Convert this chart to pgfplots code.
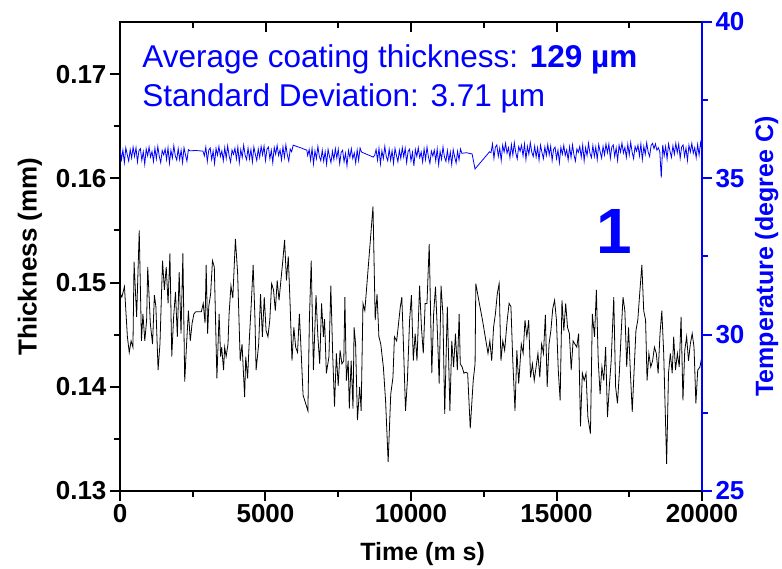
\documentclass[border=0pt]{standalone}
\usepackage{fontspec}
\setmainfont{Liberation Sans}
\usepackage{pgfplots}
\pgfplotsset{compat=1.18}
\usepackage{pgfplotstable}

\pgfplotstableread{
t th
0 0.1490
64 0.1486
153 0.1496
254 0.1448
318 0.1433
381 0.1444
445 0.1438
483 0.1520
572 0.1467
661 0.1550
737 0.1444
788 0.1470
852 0.1444
915 0.1464
953 0.1515
1042 0.1461
1118 0.1441
1182 0.1488
1233 0.1477
1309 0.1416
1373 0.1441
1462 0.1521
1525 0.1493
1589 0.1515
1652 0.1480
1716 0.1528
1779 0.1429
1843 0.1467
1907 0.1491
1970 0.1448
2034 0.1510
2097 0.1451
2161 0.1528
2224 0.1405
2288 0.1441
2351 0.1473
2415 0.1444
2478 0.1461
2542 0.1470
2606 0.1472
2796 0.1472
2860 0.1480
2923 0.1461
2961 0.1517
3012 0.1451
3050 0.1477
3114 0.1489
3178 0.1521
3241 0.1515
3330 0.1408
3406 0.1470
3457 0.1429
3495 0.1438
3559 0.1416
3597 0.1438
3648 0.1429
3711 0.1441
3749 0.1470
3813 0.1497
3877 0.1485
3966 0.1542
4042 0.1509
4131 0.1425
4194 0.1441
4283 0.1390
4321 0.1429
4385 0.1408
4449 0.1448
4512 0.1480
4576 0.1517
4639 0.1464
4677 0.1416
4766 0.1441
4830 0.1489
4893 0.1448
4957 0.1486
5020 0.1454
5084 0.1448
5148 0.1464
5211 0.1499
5275 0.1493
5338 0.1473
5402 0.1502
5465 0.1483
5529 0.1502
5592 0.1520
5656 0.1541
5720 0.1502
5783 0.1525
5847 0.1478
5910 0.1425
5974 0.1457
6037 0.1438
6101 0.1433
6164 0.1470
6228 0.1432
6291 0.1392
6457 0.1377
6508 0.1464
6571 0.1521
6647 0.1416
6736 0.1488
6800 0.1448
6863 0.1422
6927 0.1480
6990 0.1448
7029 0.1465
7092 0.1413
7181 0.1429
7245 0.1497
7308 0.1432
7372 0.1381
7435 0.1432
7499 0.1401
7562 0.1435
7626 0.1422
7690 0.1425
7728 0.1486
7779 0.1406
7842 0.1425
7880 0.1379
7944 0.1425
8007 0.1379
8045 0.1457
8096 0.1441
8160 0.1368
8236 0.1400
8287 0.1377
8350 0.1480
8414 0.1473
8694 0.1573
8770 0.1464
8833 0.1489
8897 0.1448
8961 0.1441
9050 0.1419
9126 0.1387
9215 0.1328
9304 0.1393
9380 0.1409
9431 0.1448
9507 0.1444
9558 0.1457
9634 0.1477
9685 0.1486
9736 0.1444
9812 0.1377
9876 0.1406
9952 0.1464
10015 0.1488
10079 0.1425
10143 0.1451
10206 0.1425
10295 0.1497
10359 0.1457
10422 0.1432
10486 0.1480
10549 0.1480
10626 0.1537
10715 0.1413
10778 0.1470
10842 0.1496
10905 0.1454
10969 0.1403
11032 0.1497
11096 0.1470
11159 0.1374
11248 0.1477
11337 0.1377
11401 0.1444
11464 0.1419
11528 0.1451
11592 0.1416
11655 0.1470
11693 0.1422
11757 0.1419
11820 0.1413
11884 0.1414
11947 0.1413
12036 0.1360
12138 0.1406
12202 0.1422
12227 0.1499
12329 0.1483
12456 0.1464
12646 0.1432
12710 0.1444
12774 0.1425
12837 0.1457
12901 0.1470
12964 0.1489
13028 0.1499
13091 0.1425
13155 0.1444
13218 0.1435
13307 0.1464
13371 0.1480
13434 0.1477
13498 0.1425
13574 0.1377
13638 0.1435
13701 0.1403
13790 0.1441
13854 0.1432
13917 0.1464
13981 0.1448
14045 0.1464
14108 0.1409
14172 0.1422
14235 0.1406
14299 0.1419
14362 0.1432
14426 0.1409
14489 0.1441
14553 0.1432
14617 0.1469
14680 0.1400
14744 0.1441
14807 0.1454
14871 0.1475
14934 0.1483
14998 0.1464
15061 0.1416
15125 0.1387
15188 0.1483
15252 0.1454
15316 0.1480
15379 0.1457
15443 0.1451
15506 0.1416
15570 0.1444
15633 0.1441
15697 0.1438
15760 0.1451
15824 0.1362
15888 0.1413
15951 0.1406
16015 0.1413
16078 0.1371
16167 0.1355
16231 0.1470
16307 0.1448
16370 0.1493
16434 0.1425
16498 0.1393
16561 0.1419
16625 0.1406
16688 0.1438
16752 0.1371
16815 0.1400
16879 0.1425
16968 0.1486
17031 0.1400
17095 0.1384
17159 0.1413
17222 0.1451
17286 0.1486
17349 0.1473
17413 0.1419
17476 0.1457
17540 0.1413
17603 0.1376
17667 0.1416
17730 0.1454
17794 0.1464
17858 0.1489
17934 0.1517
17997 0.1473
18061 0.1464
18112 0.1406
18175 0.1432
18239 0.1419
18302 0.1425
18366 0.1438
18430 0.1432
18493 0.1413
18557 0.1451
18620 0.1473
18684 0.1432
18785 0.1326
18849 0.1413
18912 0.1432
18976 0.1413
19027 0.1448
19090 0.1416
19154 0.1432
19218 0.1419
19281 0.1467
19345 0.1387
19408 0.1435
19472 0.1448
19536 0.1425
19599 0.1441
19663 0.1451
19726 0.1438
19790 0.1384
19853 0.1416
19930 0.1419
20000 0.1430
}\thick

\pgfplotstableread{
t temp
0 35.95
50 35.60
100 35.90
150 35.50
200 35.98
250 35.75
300 35.55
350 35.92
400 35.65
450 36.00
500 35.70
550 35.98
600 35.52
650 35.88
700 35.95
750 35.58
800 35.85
850 35.45
900 35.94
950 35.72
1000 36.00
1050 35.68
1100 35.86
1150 35.54
1200 35.96
1250 35.62
1300 36.02
1350 35.70
1400 35.50
1450 35.89
1500 35.75
1550 35.94
1600 35.60
1650 35.98
1700 35.48
1750 35.90
1800 35.65
1850 36.04
1900 35.72
1950 35.58
2000 35.95
2050 35.60
2100 35.90
2150 35.50
2200 35.98
2250 35.75
2300 35.55
2350 35.92
2400 35.88
2600 35.89
2850 35.87
2900 35.72
2950 36.00
3000 35.54
3050 35.90
3100 35.97
3150 35.60
3200 35.87
3250 35.47
3300 35.96
3350 35.74
3400 36.02
3450 35.70
3500 35.88
3550 35.56
3600 35.98
3650 35.64
3700 36.04
3750 35.72
3800 35.52
3850 35.91
3900 35.77
3950 35.96
4000 35.62
4050 36.00
4100 35.50
4150 35.92
4200 35.67
4250 36.06
4300 35.74
4350 35.60
4400 35.97
4450 35.62
4500 35.92
4550 35.52
4600 36.00
4650 35.77
4700 35.57
4750 35.94
4800 35.67
4850 36.02
4900 35.75
4950 36.03
5000 35.57
5050 35.93
5100 36.00
5150 35.63
5200 35.90
5250 35.50
5300 35.99
5350 35.77
5400 36.05
5450 35.73
5500 35.91
5550 35.59
5600 36.01
5650 35.67
5700 36.07
5750 35.75
5800 35.55
5850 35.94
5900 35.85
5950 36.06
6200 35.98
6420 35.90
6450 35.73
6500 35.92
6550 35.58
6600 35.96
6650 35.46
6700 35.88
6750 35.63
6800 36.02
6850 35.70
6900 35.56
6950 35.90
7000 35.55
7050 35.85
7100 35.45
7150 35.93
7200 35.70
7250 35.50
7300 35.87
7350 35.60
7400 35.95
7450 35.65
7500 35.93
7550 35.47
7600 35.83
7650 35.90
7700 35.53
7750 35.80
7800 35.40
7850 35.89
7900 35.67
7950 35.95
8000 35.63
8050 35.81
8100 35.49
8150 35.91
8200 35.57
8250 35.97
8300 35.84
8500 35.76
8700 35.68
8750 35.73
8800 35.92
8850 35.58
8900 35.96
8950 35.46
9000 35.88
9050 35.63
9100 36.02
9150 35.70
9200 35.56
9250 35.93
9300 35.58
9350 35.88
9400 35.48
9450 35.96
9500 35.73
9550 35.53
9600 35.90
9650 35.63
9700 35.98
9750 35.68
9800 35.96
9850 35.50
9900 35.86
9950 35.93
10000 35.56
10050 35.83
10100 35.40
10150 35.92
10200 35.70
10250 35.98
10300 35.66
10350 35.84
10400 35.52
10450 35.94
10500 35.60
10550 36.00
10600 35.68
10650 35.48
10700 35.87
10750 35.71
10800 35.90
10850 35.56
10900 35.94
10950 35.44
11000 35.86
11050 35.61
11100 36.00
11150 35.68
11200 35.54
11250 35.89
11300 35.54
11350 35.84
11400 35.44
11450 35.92
11500 35.69
11550 35.49
11600 35.86
11650 35.59
11700 35.94
11750 35.80
11900 35.82
12100 35.78
12200 35.30
12700 35.85
12750 35.82
12800 36.10
12850 35.64
12900 36.00
12950 36.07
13000 35.70
13050 35.97
13100 35.57
13150 36.06
13200 35.84
13250 36.12
13300 35.80
13350 35.98
13400 35.66
13450 36.08
13500 35.74
13550 36.14
13600 35.82
13650 35.62
13700 36.01
13750 35.87
13800 36.06
13850 35.72
13900 36.10
13950 35.60
14000 36.02
14050 35.77
14100 36.14
14150 35.84
14200 35.70
14250 36.03
14300 35.68
14350 35.98
14400 35.58
14450 36.06
14500 35.83
14550 35.63
14600 36.00
14650 35.73
14700 36.08
14750 35.75
14800 36.03
14850 35.57
14900 35.93
14950 36.00
15000 35.63
15050 35.90
15100 35.50
15150 35.99
15200 35.77
15250 36.05
15300 35.73
15350 35.91
15400 35.59
15450 36.01
15500 35.67
15550 36.07
15600 35.75
15650 35.55
15700 35.94
15750 35.83
15800 36.02
15850 35.68
15900 36.06
15950 35.56
16000 35.98
16050 35.73
16100 36.12
16150 35.80
16200 35.66
16250 36.05
16300 35.70
16350 36.00
16400 35.60
16450 36.08
16500 35.85
16550 35.65
16600 36.02
16650 35.75
16700 36.10
16750 35.82
16800 36.10
16850 35.64
16900 36.00
16950 36.07
17000 35.70
17050 35.97
17100 35.57
17150 36.06
17200 35.84
17250 36.13
17300 35.81
17350 35.99
17400 35.67
17450 36.09
17500 35.75
17550 36.15
17600 35.83
17650 35.63
17700 36.02
17750 35.87
17800 36.06
17850 35.72
17900 36.10
17950 35.60
18000 36.02
18050 35.77
18100 36.14
18150 35.84
18200 35.70
18250 36.05
18300 36.12
18350 35.95
18400 36.10
18450 35.90
18500 35.98
18550 35.85
18600 35.02
18650 36.07
18700 35.72
18750 36.02
18800 35.62
18850 36.10
18900 35.87
18950 35.67
19000 36.04
19050 35.77
19100 36.12
19150 35.82
19200 36.10
19250 35.64
19300 36.00
19350 36.07
19400 35.70
19450 35.97
19500 35.57
19550 36.06
19600 35.84
19650 36.12
19700 35.80
19750 35.98
19800 35.66
19850 36.08
19900 35.74
19950 36.14
20000 35.90
}\temp

\begin{document}
\begin{tikzpicture}
\useasboundingbox (-120pt,-77pt) rectangle (662pt,491pt);
\pgfplotsset{
  common/.style={
    at={(0pt,0pt)}, anchor=south west,
    scale only axis, width=582pt, height=469pt,
    xmin=0, xmax=20000,
    /pgf/number format/assume math mode=true,
    scaled x ticks=false, scaled y ticks=false,
    major tick length=10pt, minor tick length=6pt,
    every tick/.style={line width=2pt},
    every minor tick/.style={line width=2pt},
  }
}
% main thickness axis
\begin{axis}[common,
  ymin=0.13, ymax=0.175,
  axis line style={line width=2.5pt},
  tick align=outside,
  xtick pos=bottom, ytick pos=left,
  xtick={0,5000,10000,15000,20000}, minor x tick num=1,
  ytick={0.13,0.14,0.15,0.16,0.17}, minor y tick num=1,
  xticklabel style={/pgf/number format/1000 sep={}},
  yticklabel style={/pgf/number format/fixed, /pgf/number format/precision=2, /pgf/number format/fixed zerofill},
  tick label style={font=\bfseries\fontsize{26}{26}\selectfont},
  xlabel={Time (m s)}, ylabel={Thickness (mm)},
  label style={font=\bfseries\fontsize{25}{25}\selectfont},
  xlabel style={at={(axis description cs:0.52,-0.134)}, anchor=center},
  ylabel style={at={(axis description cs:-0.155,0.5)}, anchor=center, font=\bfseries\fontsize{26}{26}\selectfont},
]
\addplot[black, line width=0.8pt] table[x=t, y=th] {\thick};
\node[anchor=base west, inner sep=0pt, text=blue, font=\fontsize{31.5}{31.5}\selectfont] at (axis description cs:0.038,0.902) {Average coating thickness: \textbf{129 µm}};
\node[anchor=base west, inner sep=0pt, text=blue, font=\fontsize{31.5}{31.5}\selectfont] at (axis description cs:0.038,0.819) {Standard Deviation: 3.71 µm};
\node[anchor=base, inner sep=0pt, text=blue, font=\bfseries\fontsize{64}{64}\selectfont] at (axis cs:16980,0.1528) {1};
\end{axis}
% top inward ticks
\begin{axis}[common,
  ymin=0.13, ymax=0.175,
  axis line style={draw=none},
  tick align=inside, xtick pos=top,
  xtick={0,5000,10000,15000,20000}, minor x tick num=1,
  xticklabels={}, ytick=\empty,
]
\end{axis}
% temperature axis
\begin{axis}[common,
  ymin=25, ymax=40,
  axis x line=none, axis y line*=right,
  y axis line style={blue, line width=2.5pt, -},
  tick align=outside,
  ytick={25,30,35,40}, minor y tick num=1,
  every tick/.style={line width=2pt, blue},
  every minor tick/.style={line width=2pt, blue},
  yticklabel style={text=blue, font=\bfseries\fontsize{26}{26}\selectfont},
  ylabel={Temperature (degree C)},
  ylabel style={text=blue, font=\bfseries\fontsize{25}{25}\selectfont, at={(axis description cs:1.111,0.5)}, anchor=center, rotate=0},
]
\addplot[blue, line width=0.8pt] table[x=t, y=temp] {\temp};
\end{axis}
\end{tikzpicture}
\end{document}
